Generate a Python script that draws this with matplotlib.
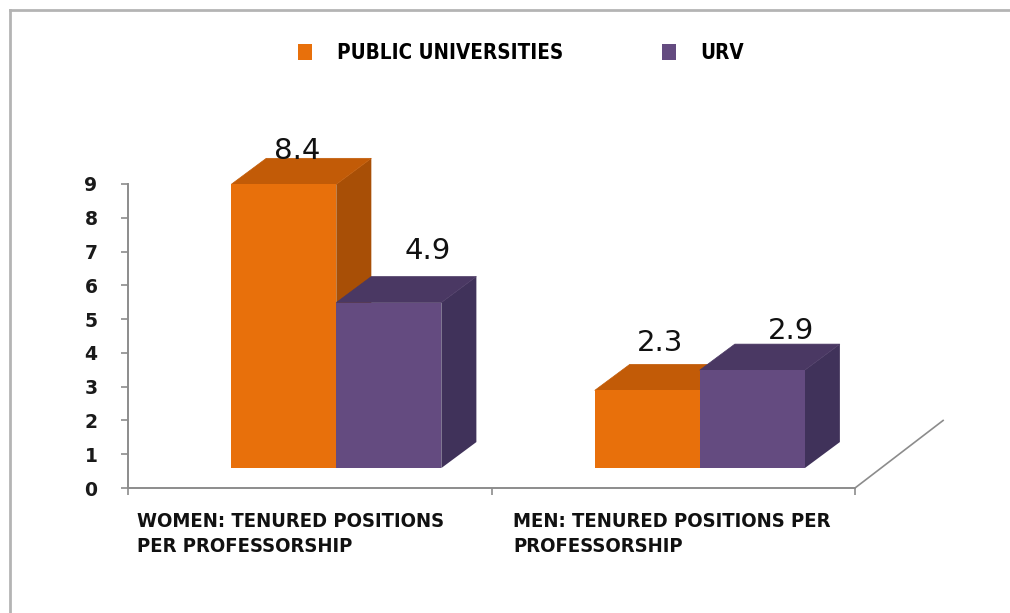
import matplotlib
matplotlib.use("Agg")
import matplotlib.pyplot as plt
from matplotlib.patches import Polygon, Patch
from matplotlib.lines import Line2D

# data
categories = ["WOMEN: TENURED POSITIONS\nPER PROFESSORSHIP",
              "MEN: TENURED POSITIONS PER\nPROFESSORSHIP"]
series_names = ["PUBLIC UNIVERSITIES", "URV"]
public_vals = [8.4, 2.3]
urv_vals = [4.9, 2.9]
y_ticks = list(range(10))

# colours: front, top, side
orange = ("#E8700B", "#C25B07", "#A84F06")
purple = ("#644B80", "#4A3863", "#40325A")

fig = plt.figure(figsize=(10.1, 6.13), dpi=100)
fig.patch.set_facecolor("white")

# axes: y=0 at 488px, y=9 at 184px, x from 128px to 855px
W, H = 1010, 613
ax = fig.add_axes([128 / W, (H - 488) / H, (855 - 128) / W, (488 - 184) / H])
ax.set_xlim(0, 2)
ax.set_ylim(0, 9)
ax.set_facecolor("none")

# 3D look
w = 0.289       # bar width
shift = 0.073   # group shift to the right
base = 0.59     # front face sits above the floor line
dx, dy = 0.0964, 0.77


def draw_bar(x0, val, cols):
    front, top, side = cols
    y0, y1 = base, base + val
    ax.add_patch(Polygon([(x0 + w, y0), (x0 + w + dx, y0 + dy), (x0 + w + dx, y1 + dy), (x0 + w, y1)],
                         closed=True, facecolor=side, edgecolor="none", clip_on=False))
    ax.add_patch(Polygon([(x0, y1), (x0 + dx, y1 + dy), (x0 + w + dx, y1 + dy), (x0 + w, y1)],
                         closed=True, facecolor=top, edgecolor=top, lw=0.5, clip_on=False))
    ax.add_patch(Polygon([(x0, y0), (x0 + w, y0), (x0 + w, y1), (x0, y1)],
                         closed=True, facecolor=front, edgecolor="none", clip_on=False))


# label offsets (x per series, y per bar) as Excel placed them
label_dx = [0.036, 0.107]
label_dy = [[0.22, 0.62], [0.75, 0.38]]
for i in range(len(categories)):
    center = i + 0.5 + shift
    for j, (vals, cols) in enumerate([(public_vals, orange), (urv_vals, purple)]):
        x0 = center - w + j * w
        draw_bar(x0, vals[i], cols)
        ax.text(x0 + w / 2 + label_dx[j], base + vals[i] + dy + label_dy[j][i], f"{vals[i]}",
                ha="center", va="center", fontsize=21, color="#111111", clip_on=False)

# spines / ticks
for s in ["top", "right"]:
    ax.spines[s].set_visible(False)
for s in ["left", "bottom"]:
    ax.spines[s].set_color("#8C8C8C")
    ax.spines[s].set_linewidth(1.4)
ax.set_yticks(y_ticks)
ax.set_yticklabels([str(t) for t in y_ticks], fontsize=13.5, fontweight="bold", color="#1A1A1A")
ax.tick_params(axis="y", length=5, width=1.2, color="#8C8C8C", pad=17)
ax.set_xticks([0, 1, 2])
ax.set_xticklabels([])
ax.tick_params(axis="x", length=5, width=1.2, color="#8C8C8C")

# floor edge going back
ax.plot([2, 2 + 88 / 363], [0, 2.0], color="#8C8C8C", lw=1.2, clip_on=False)

# category labels
for i, cat in enumerate(categories):
    ax.text(i + 0.025 + i * 0.035, -0.72, cat, ha="left", va="top", fontsize=14.5,
            fontweight="bold", family="DejaVu Sans", fontstretch="condensed",
            color="#111111", linespacing=1.35)

# legend
handles = [Patch(facecolor=orange[0]), Patch(facecolor=purple[0])]
fig.legend(handles, series_names, ncol=2, loc="center", bbox_to_anchor=(521 / W, 1 - 53 / H),
           frameon=False, handlelength=0.7, handleheight=0.85, handletextpad=1.2,
           columnspacing=4.8,
           prop={"family": "DejaVu Sans", "stretch": "condensed", "weight": "bold", "size": 14.8})

# frame
fig.add_artist(Line2D([10 / W, 1], [1 - 10 / H, 1 - 10 / H], color="#B4B4B4", lw=2))
fig.add_artist(Line2D([10 / W, 10 / W], [0, 1 - 10 / H], color="#B4B4B4", lw=2))

fig.savefig("out.png", dpi=100)
